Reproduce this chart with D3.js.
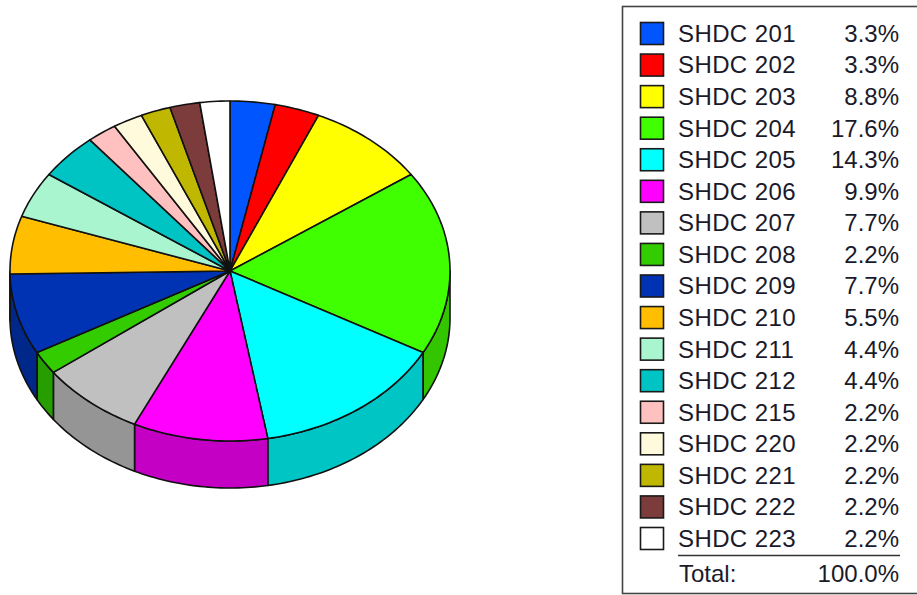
<!DOCTYPE html>
<html>
<head>
<meta charset="utf-8">
<script src="https://cdn.jsdelivr.net/npm/d3@7/dist/d3.min.js"></script>
<style>
html, body { margin: 0; padding: 0; background: #fff; overflow: hidden; }
svg { display: block; }
text { font-family: "Liberation Sans", Arial, sans-serif; font-size: 24px; fill: #1a1a2a; }
</style>
</head>
<body>
<svg id="chart" width="917" height="595"></svg>
<script>
const categories = ["SHDC 201", "SHDC 202", "SHDC 203", "SHDC 204", "SHDC 205", "SHDC 206", "SHDC 207", "SHDC 208", "SHDC 209", "SHDC 210", "SHDC 211", "SHDC 212", "SHDC 215", "SHDC 220", "SHDC 221", "SHDC 222", "SHDC 223"];
const shares = [3.3, 3.3, 8.8, 17.6, 14.3, 9.9, 7.7, 2.2, 7.7, 5.5, 4.4, 4.4, 2.2, 2.2, 2.2, 2.2, 2.2];
const shareLabels = ["3.3%", "3.3%", "8.8%", "17.6%", "14.3%", "9.9%", "7.7%", "2.2%", "7.7%", "5.5%", "4.4%", "4.4%", "2.2%", "2.2%", "2.2%", "2.2%", "2.2%"];
const topColors = ["#0055ff", "#ff0000", "#ffff00", "#40ff00", "#00ffff", "#ff00ff", "#c0c0c0", "#33cc00", "#0033b3", "#ffbf00", "#a8f5d0", "#00c4c4", "#ffc0c0", "#fffadc", "#c0b800", "#7d3c3c", "#ffffff"];
const totalLabel = "Total:";
const totalValue = "100.0%";

const DEPTH = 47;

const svg = d3.select("#chart");

// pie is an ellipse, so angles go through two linear scales
const x = d3.scaleLinear().domain([-1, 1]).range([10, 450]);
const y = d3.scaleLinear().domain([-1, 1]).range([101, 441]);

const pie = d3.pie().sort(null).value(d => d);
const slices = pie(shares);

const px = a => x(Math.sin(a));
const py = a => y(-Math.cos(a));

function rimPoints(a0, a1) {
    const steps = Math.max(2, Math.ceil((a1 - a0) / 0.02));
    return d3.range(steps + 1).map(i => a0 + (a1 - a0) * i / steps);
}

const line = d3.line();

const chart = svg.append("g");

// side walls, only the front half of the pie shows them
const walls = slices
    .map((d, i) => ({
        i: i,
        a0: Math.max(d.startAngle, Math.PI / 2),
        a1: Math.min(d.endAngle, Math.PI * 1.5)
    }))
    .filter(d => d.a1 > d.a0);

chart.selectAll(".wall")
    .data(walls)
    .enter()
    .append("path")
    .classed("wall", true)
    .attr("d", d => {
        const rim = rimPoints(d.a0, d.a1);
        const upper = rim.map(a => [px(a), py(a)]);
        const lower = rim.slice().reverse().map(a => [px(a), py(a) + DEPTH]);
        return line(upper.concat(lower)) + "Z";
    })
    .attr("fill", d => d3.color(topColors[d.i]).darker(0.72))
    .attr("stroke", "#111")
    .attr("stroke-width", 1.6)
    .attr("stroke-linejoin", "round");

chart.selectAll(".slice")
    .data(slices)
    .enter()
    .append("path")
    .classed("slice", true)
    .attr("d", d => {
        const rim = rimPoints(d.startAngle, d.endAngle).map(a => [px(a), py(a)]);
        return line([[x(0), y(0)]].concat(rim)) + "Z";
    })
    .attr("fill", (d, i) => topColors[i])
    .attr("stroke", "#111")
    .attr("stroke-width", 1.6)
    .attr("stroke-linejoin", "round");

// legend, its right side runs off the picture
const legend = svg.append("g");

legend.append("rect")
    .attr("x", 622.5)
    .attr("y", 6.5)
    .attr("width", 310)
    .attr("height", 587)
    .attr("fill", "#fff")
    .attr("stroke", "#444")
    .attr("stroke-width", 1.6);

const rowY = d3.scalePoint().domain(categories).range([33.5, 538.5]);

const rows = legend.selectAll(".row")
    .data(categories)
    .enter()
    .append("g")
    .classed("row", true)
    .attr("transform", d => `translate(0,${rowY(d)})`);

rows.append("rect")
    .attr("x", 640.5)
    .attr("y", -11)
    .attr("width", 23)
    .attr("height", 22)
    .attr("fill", (d, i) => topColors[i])
    .attr("stroke", "#1a1a1a")
    .attr("stroke-width", 1.6);

rows.append("text")
    .attr("x", 678)
    .attr("dy", "0.35em")
    .attr("letter-spacing", 0.4)
    .text(d => d);

rows.append("text")
    .attr("x", 899)
    .attr("dy", "0.35em")
    .attr("text-anchor", "end")
    .text((d, i) => shareLabels[i]);

legend.append("line")
    .attr("x1", 678)
    .attr("x2", 900)
    .attr("y1", 555.5)
    .attr("y2", 555.5)
    .attr("stroke", "#333")
    .attr("stroke-width", 1.5);

legend.append("text")
    .attr("x", 679)
    .attr("y", 574)
    .attr("dy", "0.35em")
    .text(totalLabel);

legend.append("text")
    .attr("x", 899)
    .attr("y", 574)
    .attr("dy", "0.35em")
    .attr("text-anchor", "end")
    .text(totalValue);
</script>
</body>
</html>
